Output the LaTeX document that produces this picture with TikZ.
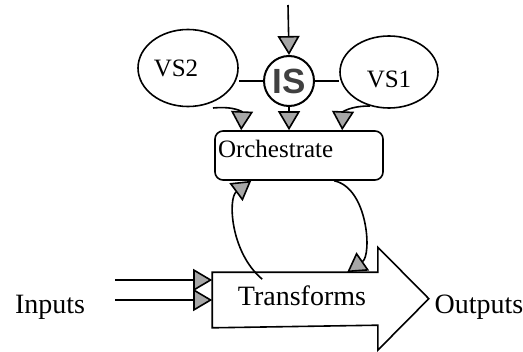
\documentclass[tikz,border=0pt]{standalone}
\usepackage{fontspec}
\setmainfont{Liberation Serif}
\newfontfamily\isfont{Liberation Sans}
\usetikzlibrary{arrows.meta,shapes.geometric}

\begin{document}
\begin{tikzpicture}[x=0.5pt, y=-0.5pt, line width=0.8pt,
    tip/.style={-{Triangle[width=11pt,length=9.5pt,fill=gray!70]}},
    vsnode/.style={draw, ellipse, inner sep=0pt,
        font=\fontsize{12.5}{14}\selectfont},
    isnode/.style={draw, circle, line width=1pt, minimum size=25pt,
        inner sep=0pt, font=\isfont\bfseries\fontsize{17.5}{19}\selectfont,
        text=black!75},
    orchbox/.style={draw, rounded corners=4pt, text width=81pt, align=left,
        inner xsep=1.5pt, inner ysep=0pt, text height=13pt, text depth=11.5pt,
        font=\fontsize{12.5}{14}\selectfont},
    bodynode/.style={minimum width=82pt, minimum height=27pt, inner sep=0pt},
    bigtext/.style={anchor=base, font=\fontsize{14}{16}\selectfont}]

    \useasboundingbox (0,0) rectangle (523,352);

    % sources and the orchestrator
    \node[isnode] (is) at (289,81) {IS};
    \node[vsnode, minimum width=50pt, minimum height=38.5pt,
        label={[xshift=-6pt,font=\fontsize{12.5}{14}\selectfont]center:VS2}]
        (vs2) at (188,68) {};
    \node[vsnode, minimum width=49pt, minimum height=36pt,
        label={[yshift=-3.5pt,font=\fontsize{12.5}{14}\selectfont]center:VS1}]
        (vs1) at (389,72) {};
    \node[orchbox] (orch) at (299,155.5) {Orchestrate};

    \coordinate (top) at (288,5);
    \coordinate (vs2out) at (213,108);
    \coordinate (vs1out) at (370,106);

    \draw[tip] (top) -- (is.north);
    \draw (is.west) -- (is.west -| vs2.east);
    \draw (is.east) -- (is.east -| vs1.west);
    \draw[tip] (is.south) -- (is.south |- orch.north);
    \draw[tip] (vs2out) .. controls (235,106) and (242,112)
        .. ([xshift=13.5pt]orch.north west);
    \draw[tip] (vs1out) .. controls (350,106) and (343,112)
        .. ([xshift=64pt]orch.north west);

    % the transforms arrow
    \node[bodynode] (tr) at (295,300) {};
    \draw (tr.north west) -- (tr.north east) -- ++(0,-25) -- ++(51,51.5)
        -- ++(-51,51.5) -- ++(0,-25) -- (tr.south west) -- cycle;
    \node[bigtext] (trtext) at (302,305) {Transforms};

    % loop between orchestrate and transforms
    \draw[tip] ([shift={(50,7)}]tr.north west) .. controls (230,252) and (228,198)
        .. ([xshift=18.5pt]orch.south west);
    \draw[tip] ([xshift=60pt]orch.south west) .. controls (368,188) and (372,255)
        .. ([xshift=67.5pt]tr.north west);

    % inputs and outputs
    \coordinate (in1) at (115,280);
    \coordinate (in2) at (115,300);
    \draw[tip] (in1) -- (in1 -| tr.west);
    \draw[tip] (in2) -- (in2 -| tr.west);
    \node[bigtext] (inputs) at (50,313) {Inputs};
    \node[bigtext] (outputs) at (479,313) {Outputs};

\end{tikzpicture}
\end{document}
